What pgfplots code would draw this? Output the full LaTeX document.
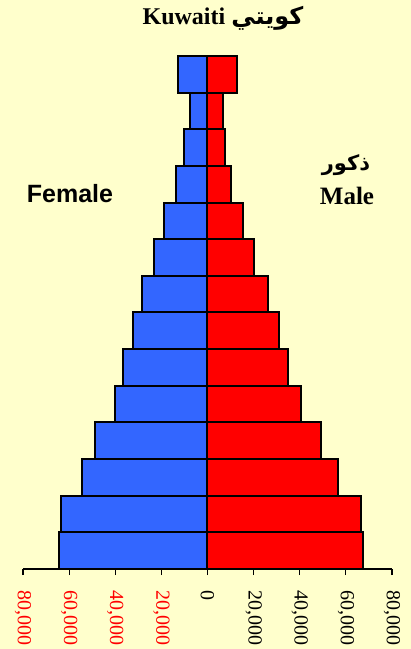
\documentclass[border=0pt]{standalone}
\usepackage{fontspec}
\setmainfont{Liberation Serif}
\newfontfamily\sansb{Liberation Sans}
\newfontfamily\arabicfont[Script=Arabic]{DejaVu Sans}
\TeXXeTstate=1
\usepackage{pgfplots}
\usepackage{pgfplotstable}
\pgfplotsset{compat=1.18}

\definecolor{bgyellow}{HTML}{FFFFCC}
\definecolor{femblue}{HTML}{3366FF}
\definecolor{malered}{HTML}{FF0000}

% age groups from youngest (1) to oldest (14)
\pgfplotstableread{
grp female male
1  64500 67500
2  63500 66700
3  54500 56800
4  48600 49400
5  40300 40600
6  36600 35000
7  32400 30800
8  28300 26300
9  23000 20100
10 18800 15200
11 13600 10000
12 10400 7700
13 7500  6800
14 12800 12600
}\pyramid

\begin{document}
\begin{tikzpicture}
\fill[bgyellow] (0,0) rectangle (411pt,649pt);
\useasboundingbox (0,0) rectangle (411pt,649pt);
\begin{axis}[
  at={(23pt,80pt)}, anchor=south west,
  scale only axis,
  width=369pt, height=513pt,
  xmin=-80000, xmax=80000,
  ymin=0.5, ymax=14.5,
  axis x line=bottom, axis y line=none,
  x axis line style={-, line width=1.3pt},
  xtick={-80000,-60000,-40000,-20000,0,20000,40000,60000,80000},
  xticklabels={{\textcolor{malered}{80,000}},{\textcolor{malered}{60,000}},
    {\textcolor{malered}{40,000}},{\textcolor{malered}{20,000}},{0},
    {20,000},{40,000},{60,000},{80,000}},
  scaled x ticks=false,
  tick align=outside,
  major tick length=6pt,
  tick style={black, line width=1.2pt},
  xticklabel shift=12pt,
  x tick label style={rotate=-90, anchor=west, font=\fontsize{20}{20}\selectfont},
  ytick=\empty,
  xbar, bar shift=0pt, bar width=1,
  clip=false,
]
\addplot[draw=black, line width=2pt, fill=femblue]
  table[x expr=-\thisrow{female}, y=grp] {\pyramid};
\addplot[draw=black, line width=2pt, fill=malered]
  table[x=male, y=grp] {\pyramid};
\end{axis}
\node[font=\fontsize{24}{24}\selectfont\bfseries] at (223pt,631pt)
  {Kuwaiti {\arabicfont\beginR كويتي\endR}};
\node[font=\sansb\fontsize{25}{25}\selectfont\bfseries] at (70pt,455pt) {Female};
\node[font=\fontsize{25}{25}\selectfont\bfseries] at (347pt,453pt) {Male};
\node[font=\arabicfont\fontsize{21}{21}\selectfont\bfseries] at (346pt,484pt) {\beginR ذكور\endR};
\end{tikzpicture}
\end{document}
